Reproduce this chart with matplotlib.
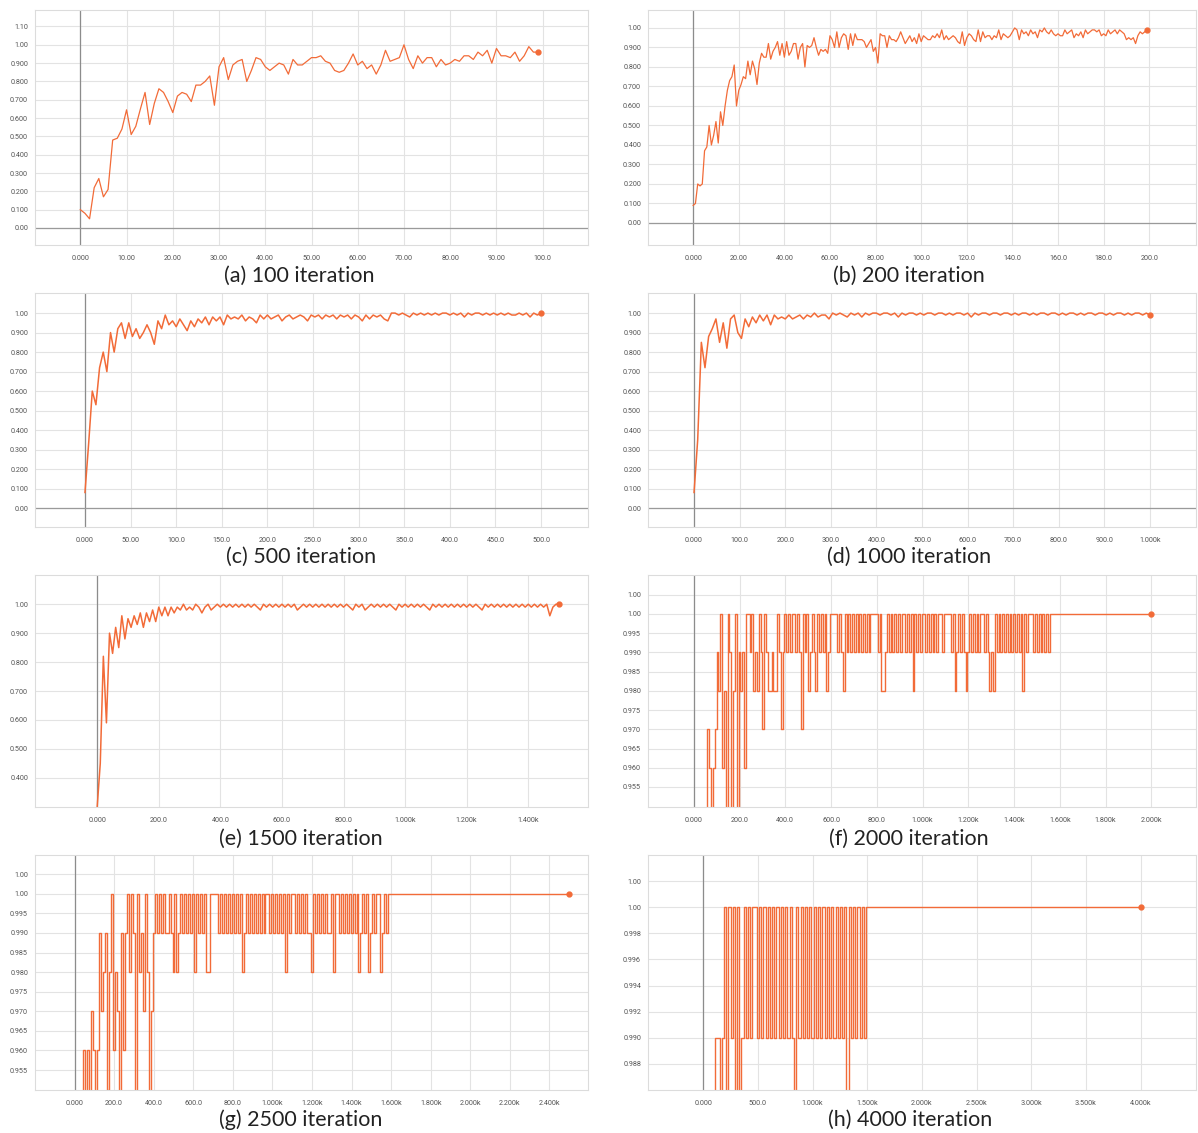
import numpy as np
import matplotlib.pyplot as plt

# accuracy curves
# (a) and (b): one value per step
acc_100 = [0.10, 0.08, 0.05, 0.22, 0.27, 0.17, 0.21, 0.48, 0.49, 0.54,
           0.645, 0.51, 0.555, 0.65, 0.74, 0.565, 0.68, 0.76, 0.74, 0.69,
           0.63, 0.72, 0.74, 0.73, 0.69, 0.78, 0.78, 0.80, 0.83, 0.67,
           0.88, 0.93, 0.81, 0.89, 0.91, 0.92, 0.80, 0.86, 0.93, 0.92,
           0.88, 0.86, 0.88, 0.90, 0.89, 0.84, 0.92, 0.89, 0.89, 0.91,
           0.93, 0.93, 0.94, 0.91, 0.90, 0.86, 0.85, 0.86, 0.90, 0.95,
           0.89, 0.91, 0.87, 0.89, 0.84, 0.89, 0.97, 0.91, 0.92, 0.93,
           1.00, 0.92, 0.87, 0.94, 0.90, 0.93, 0.93, 0.88, 0.92, 0.89,
           0.90, 0.92, 0.91, 0.94, 0.94, 0.92, 0.96, 0.94, 0.97, 0.90,
           0.98, 0.94, 0.94, 0.93, 0.96, 0.91, 0.94, 0.99, 0.96, 0.96]

acc_200 = [0.09, 0.10, 0.20, 0.19, 0.20, 0.37, 0.39, 0.50, 0.40, 0.45,
           0.52, 0.41, 0.57, 0.50, 0.60, 0.68, 0.73, 0.75, 0.81, 0.60,
           0.68, 0.71, 0.75, 0.74, 0.83, 0.76, 0.83, 0.79, 0.71, 0.82,
           0.87, 0.85, 0.85, 0.92, 0.84, 0.88, 0.90, 0.93, 0.86, 0.92,
           0.85, 0.93, 0.86, 0.88, 0.92, 0.92, 0.84, 0.90, 0.92, 0.80,
           0.91, 0.90, 0.91, 0.95, 0.90, 0.86, 0.89, 0.88, 0.89, 0.87,
           0.96, 0.94, 0.90, 0.98, 0.90, 0.95, 0.97, 0.96, 0.89, 0.97,
           0.91, 0.97, 0.94, 0.94, 0.94, 0.93, 0.90, 0.92, 0.94, 0.88,
           0.90, 0.82, 0.97, 0.96, 0.96, 0.90, 0.96, 0.94, 0.94, 0.93,
           0.95, 0.98, 0.95, 0.92, 0.94, 0.96, 0.93, 0.95, 0.92, 0.97,
           0.93, 0.96, 0.95, 0.94, 0.94, 0.96, 0.95, 0.97, 0.95, 0.99,
           0.94, 0.96, 0.94, 0.95, 0.96, 0.95, 0.93, 0.92, 0.98, 0.91,
           0.95, 0.97, 0.96, 0.94, 0.93, 0.99, 0.93, 0.98, 0.95, 0.96,
           0.96, 0.94, 0.96, 0.95, 0.99, 0.94, 0.97, 0.96, 0.95, 0.96,
           0.98, 1.00, 0.99, 0.94, 0.99, 0.97, 0.98, 0.96, 0.99, 0.97,
           0.98, 0.95, 0.99, 0.98, 1.00, 0.98, 0.97, 0.99, 0.97, 0.96,
           0.97, 0.96, 0.96, 0.99, 0.97, 0.98, 0.99, 0.95, 0.97, 0.96,
           0.98, 0.95, 0.99, 0.97, 0.98, 0.99, 0.99, 0.98, 0.99, 0.96,
           0.97, 0.96, 0.99, 0.97, 0.98, 0.99, 0.97, 0.99, 0.98, 0.97,
           0.94, 0.95, 0.94, 0.95, 0.92, 0.96, 0.98, 0.97, 0.98, 0.99]

# (c)-(h): percent, sampled every `step_*` steps
step_500 = 4
pct_500 = [8, 33, 60, 53, 72, 80, 70, 90, 80, 92,
           95, 87, 95, 88, 92, 87, 90, 94, 90, 84,
           96, 92, 99, 94, 96, 93, 97, 94, 91, 96,
           93, 97, 95, 98, 94, 98, 96, 98, 94, 99,
           97, 98, 97, 99, 96, 98, 97, 95, 99, 97,
           99, 97, 98, 99, 96, 98, 99, 97, 98, 99,
           98, 96, 99, 98, 99, 97, 99, 98, 99, 97,
           99, 98, 99, 97, 99, 98, 96, 99, 97, 99,
           98, 99, 97, 96, 100, 100, 99, 100, 99, 98,
           100, 99, 100, 99, 100, 99, 100, 99, 100, 100,
           99, 100, 99, 100, 98, 100, 99, 100, 100, 99,
           100, 99, 100, 99, 100, 99, 100, 99, 99, 100,
           99, 100, 98, 100, 99, 100]

step_1000 = 8
pct_1000 = [8, 35, 85, 72, 88, 92, 97, 85, 95, 82,
            97, 99, 90, 87, 97, 93, 98, 95, 99, 96,
            99, 94, 99, 97, 98, 97, 99, 97, 98, 99,
            97, 99, 98, 100, 98, 99, 99, 97, 100, 99,
            100, 99, 98, 100, 99, 100, 98, 100, 99, 100,
            100, 99, 100, 100, 99, 100, 98, 100, 99, 100,
            100, 99, 100, 99, 100, 100, 99, 100, 100, 99,
            100, 99, 100, 100, 99, 100, 98, 100, 99, 100,
            100, 99, 100, 100, 99, 100, 100, 99, 100, 99,
            100, 100, 99, 100, 99, 100, 100, 99, 100, 100,
            99, 100, 99, 100, 100, 99, 100, 99, 100, 100,
            99, 100, 100, 99, 100, 99, 100, 100, 99, 100,
            99, 100, 100, 99, 100, 99]

step_1500 = 10
pct_1500 = [30, 45, 82, 59, 90, 83, 92, 85, 96, 88,
            95, 92, 96, 93, 97, 92, 97, 94, 98, 94,
            99, 96, 99, 96, 99, 97, 99, 98, 100, 98,
            99, 98, 100, 99, 97, 99, 100, 98, 99, 100,
            99, 100, 99, 100, 99, 100, 99, 100, 99, 100,
            99, 100, 99, 98, 100, 99, 100, 99, 100, 99,
            100, 99, 100, 99, 100, 98, 99, 100, 99, 100,
            99, 100, 99, 100, 99, 100, 99, 100, 99, 100,
            99, 100, 99, 98, 100, 99, 100, 98, 99, 100,
            99, 100, 99, 100, 99, 100, 99, 98, 100, 99,
            100, 99, 100, 99, 100, 99, 100, 99, 98, 100,
            99, 100, 99, 100, 99, 100, 99, 100, 99, 100,
            99, 100, 99, 100, 99, 98, 100, 99, 100, 99,
            100, 99, 100, 99, 100, 99, 100, 99, 100, 99,
            100, 99, 100, 99, 100, 99, 100, 96, 99, 100,
            100]

step_2000 = 8
pct_2000 = [10, 50, 70, 80, 85, 88, 90, 92,
            97, 96, 94, 96, 97, 99, 98, 100, 96, 98, 94,
            100, 99, 94, 98, 100, 94, 99, 98, 99, 96, 100,
            100, 99, 100, 98, 99, 98, 100, 99, 97, 100, 99,
            98, 98, 99, 98, 98, 100, 99, 97, 99, 100,
            99, 100, 99, 100, 100, 99, 100, 99, 97, 100,
            99, 100, 98, 99, 100, 99, 98, 100, 99, 100,
            99, 100, 98, 99, 100, 100, 100, 100, 99, 100,
            99, 98, 100, 99, 100, 99, 100, 99, 100, 99,
            100, 99, 100, 99, 100, 99, 100, 100, 100, 100,
            99, 100, 98, 98, 99, 100, 99, 100, 99, 100,
            99, 100, 99, 100, 100, 99, 100, 99, 100, 98,
            100, 99, 100, 99, 100, 100, 99, 100, 99, 100,
            99, 100, 99, 100, 100, 99, 100, 100, 100, 100,
            99, 100, 98, 99, 100, 99, 100, 99, 98, 99,
            100, 99, 100, 99, 100, 99, 100, 100, 99, 100,
            99, 98, 99, 98, 100, 99, 100, 99, 100, 99,
            100, 99, 100, 99, 100, 99, 100, 99, 100, 98,
            100, 99, 100, 100, 100, 99, 100, 99, 100, 99,
            100, 99, 100, 99, 100]
last_2000 = 2000

step_2500 = 10
pct_2500 = [10, 40, 60, 80, 94, 96, 94, 96, 94, 97,
            96, 94, 96, 99, 97, 98, 99, 95, 98, 100,
            96, 98, 97, 94, 99, 96, 99, 100, 98, 100,
            99, 94, 100, 98, 99, 97, 100, 98, 94, 97, 99,
            100, 99, 100, 99, 100, 99, 99, 100, 99, 98,
            100, 98, 99, 100, 99, 100, 99, 100, 99, 100,
            98, 100, 99, 100, 99, 100, 98, 98, 100, 100,
            100, 100, 99, 100, 99, 100, 99, 100, 99, 100,
            99, 100, 99, 100, 98, 99, 100, 99, 100, 99,
            100, 99, 100, 99, 100, 99, 100, 100, 99, 100,
            99, 100, 99, 100, 99, 100, 98, 100, 99, 100,
            100, 99, 100, 99, 100, 99, 100, 99, 99, 98,
            100, 99, 100, 99, 100, 99, 100, 99, 99, 100,
            98, 100, 100, 99, 100, 99, 100, 99, 100, 99,
            100, 99, 100, 98, 99, 100, 99, 100, 98, 99,
            100, 99, 100, 100, 98, 99, 100, 99, 100, 100]
last_2500 = 2500

step_4000 = 20
pct_4000 = [10, 70, 90, 95, 97, 98,
            99, 99, 98, 99, 100, 98, 100, 99, 100, 98, 100, 97, 99, 100, 99,
            100, 99, 100, 100, 99, 100, 99, 100, 99, 100,
            99, 100, 99, 100, 99, 100, 99, 100, 99, 100,
            99, 98, 100, 99, 100, 99, 100, 99, 100, 99,
            100, 99, 100, 99, 100, 99, 100, 99, 100, 99,
            100, 99, 100, 99, 100, 98, 100, 99, 100, 99,
            100, 99, 100, 99, 100]
last_4000 = 4000

LINE = '#f26b38'


def fmt_x(v):
    if v == 0:
        return '0.000'
    if v >= 1000:
        return '%.3fk' % (v / 1000)
    if v >= 100:
        return '%.1f' % v
    return '%.2f' % v


def panel(rect, x, y, xlim, ylim, xticks, yticks, ylabels, caption, cap_xy,
          steps=False, lw=0.9):
    ax = fig.add_axes(rect)
    ax.plot(x, y, color=LINE, lw=lw, drawstyle='steps-mid' if steps else 'default')
    ax.plot(x[-1], y[-1], 'o', color=LINE, ms=3.5)
    ax.set_xlim(*xlim)
    ax.set_ylim(*ylim)
    ax.set_xticks(xticks)
    ax.set_xticklabels([fmt_x(v) for v in xticks])
    ax.set_yticks(yticks)
    ax.set_yticklabels(ylabels)
    ax.grid(True, color='#e3e3e3', lw=0.8)
    ax.set_axisbelow(True)
    ax.axvline(0, color='#8c8c8c', lw=0.9, zorder=1.5)
    if ylim[0] < 0:
        ax.axhline(0, color='#9a9a9a', lw=0.9, zorder=1.5)
    for s in ax.spines.values():
        s.set_color('#dcdcdc')
        s.set_linewidth(0.8)
    ax.tick_params(length=0, labelsize=5.2, labelcolor='#555555')
    ax.tick_params(axis='x', pad=7)
    ax.tick_params(axis='y', pad=5)
    for t in ax.get_xticklabels() + ax.get_yticklabels():
        t.set_family('Roboto')
    fig.text(cap_xy[0] / W, 1 - cap_xy[1] / H, caption, ha='center', va='center',
             fontsize=15.5, family='Lato', color='#222222')
    return ax


W, H = 1198, 1133
fig = plt.figure(figsize=(W / 100, H / 100), dpi=100)

L1, W1 = 35 / W, 553 / W
L2, W2 = 648 / W, 548 / W
rows = [(10, 245), (293, 527), (575, 807), (855, 1090)]
rb = [(1 - b / H, (b - t) / H) for t, b in rows]
caps_y = [276, 557, 839, 1120]

y_main = [i / 10 for i in range(11)]
y_main_lab = ['0.00'] + ['%.3f' % (i / 10) for i in range(1, 10)] + ['1.00']

# (a)
x = np.arange(len(acc_100))
panel([L1, rb[0][0], W1, rb[0][1]], x, acc_100, (-9.8, 109.8), (-0.093, 1.19),
      list(range(0, 101, 10)), y_main + [1.1], y_main_lab + ['1.10'],
      '(a) 100 iteration', (299, caps_y[0]))

# (b)
x = np.arange(len(acc_200))
panel([L2, rb[0][0], W2, rb[0][1]], x, acc_200, (-19.8, 220.5), (-0.113, 1.092),
      list(range(0, 201, 20)), y_main, y_main_lab,
      '(b) 200 iteration', (909, caps_y[0]))

# (c)
x = np.arange(len(pct_500)) * step_500
panel([L1, rb[1][0], W1, rb[1][1]], x, np.array(pct_500) / 100, (-54.8, 551.5), (-0.097, 1.103),
      list(range(0, 501, 50)), y_main, y_main_lab,
      '(c) 500 iteration', (301, caps_y[1]), lw=1.1)

# (d)
x = np.arange(len(pct_1000)) * step_1000
panel([L2, rb[1][0], W2, rb[1][1]], x, np.array(pct_1000) / 100, (-101, 1101), (-0.097, 1.103),
      list(range(0, 1001, 100)), y_main, y_main_lab,
      '(d) 1000 iteration', (909, caps_y[1]), lw=1.1)

# (e)
x = np.arange(len(pct_1500)) * step_1500
panel([L1, rb[2][0], W1, rb[2][1]], x, np.array(pct_1500) / 100, (-202, 1594), (0.299, 1.101),
      list(range(0, 1401, 200)), [0.4, 0.5, 0.6, 0.7, 0.8, 0.9, 1.0],
      ['0.400', '0.500', '0.600', '0.700', '0.800', '0.900', '1.00'],
      '(e) 1500 iteration', (301, caps_y[2]), lw=1.1)

y_fine = [0.955, 0.96, 0.965, 0.97, 0.975, 0.98, 0.985, 0.99, 0.995, 1.0, 1.005]
y_fine_lab = ['%.3f' % v for v in y_fine[:-2]] + ['1.00', '1.00']

# (f)
x = np.append(np.arange(len(pct_2000)) * step_2000, last_2000)
y = np.append(np.array(pct_2000) / 100, 1.0)
panel([L2, rb[2][0], W2, rb[2][1]], x, y, (-200, 2195), (0.9498, 1.0101),
      list(range(0, 2001, 200)), y_fine, y_fine_lab,
      '(f) 2000 iteration', (909, caps_y[2]), steps=True, lw=1.0)

# (g)
x = np.append(np.arange(len(pct_2500)) * step_2500, last_2500)
y = np.append(np.array(pct_2500) / 100, 1.0)
panel([L1, rb[3][0], W1, rb[3][1]], x, y, (-200, 2595), (0.9499, 1.0099),
      list(range(0, 2401, 200)), y_fine, y_fine_lab,
      '(g) 2500 iteration', (301, caps_y[3]), steps=True, lw=1.0)

# (h)
y_h = [0.988, 0.990, 0.992, 0.994, 0.996, 0.998, 1.0, 1.002]
y_h_lab = ['%.3f' % v for v in y_h[:-2]] + ['1.00', '1.00']
x = np.append(np.arange(len(pct_4000)) * step_4000, last_4000)
y = np.append(np.array(pct_4000) / 100, 1.0)
panel([L2, rb[3][0], W2, rb[3][1]], x, y, (-505, 4507), (0.986, 1.004),
      list(range(0, 4001, 500)), y_h, y_h_lab,
      '(h) 4000 iteration', (910, caps_y[3]), steps=True, lw=1.0)

fig.savefig('out.png', dpi=100, facecolor='white')
